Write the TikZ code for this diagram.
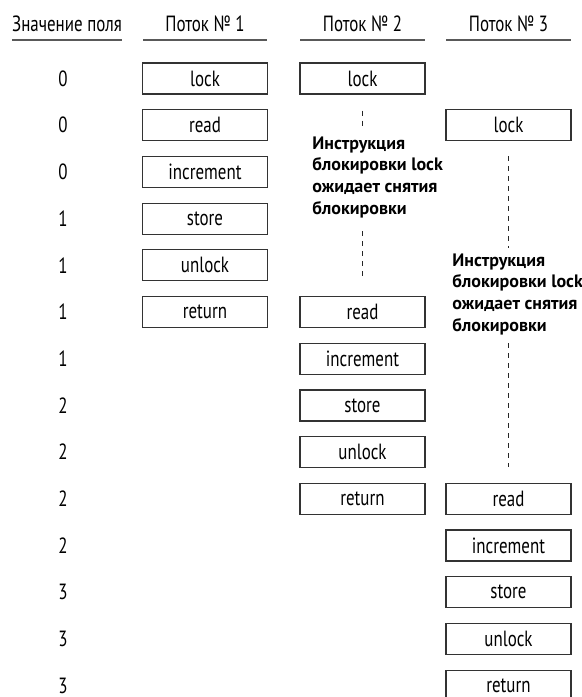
\documentclass[tikz,border=0pt]{standalone}
\usepackage{fontspec}
\setmainfont{PT Sans}[FakeStretch=0.77]
\newfontfamily\notefont{PT Sans}
\usetikzlibrary{positioning}

\begin{document}
\begin{tikzpicture}[x=0.5pt, y=-0.5pt, every node/.style={font=\fontsize{11}{13}\selectfont},
	opbox/.style={draw=black!80, line width=0.6pt, minimum width=62.5pt, minimum height=15.5pt, inner sep=0pt},
	headtext/.style={anchor=base, inner sep=0pt},
	headrule/.style={draw=black!65, line width=1pt},
	waitline/.style={draw=black!85, line width=0.6pt, dash pattern=on 2.5pt off 2.5pt},
	note/.style={font=\notefont\fontsize{9}{10.85}\selectfont\bfseries, align=left, anchor=north west, inner sep=0pt}]
	\useasboundingbox (0,0) rectangle (582,697);
	\node[headtext] (h0) at (67,31.7) {Значение поля};
	\foreach \c/\x in {1/205,2/362.5,3/508.5}
		\node[headtext] (h\c) at (\x,31.7) {Поток №~\c};
	\foreach \a/\b in {12/122,143/267,300/425,446/571}
		\draw[headrule] (\a,40) -- (\b,40);
	\foreach \v [count=\i from 0] in {0,0,0,1,1,1,1,2,2,2,2,3,3,3}
		\node (v\i) at (63,{78.5+46.7*\i}) {\v};
	\foreach \t [count=\i from 0] in {lock,read,increment,store,unlock,return}
		\node[opbox] (a\i) at (205,{78.5+46.7*\i}) {\t};
	\node[opbox] (b0) at (362.5,78.5) {lock};
	\foreach \t [count=\i from 5] in {read,increment,store,unlock,return}
		\node[opbox] (b\i) at (362.5,{78.5+46.7*\i}) {\t};
	\node[opbox] (c1) at (508.5,{78.5+46.7}) {lock};
	\foreach \t [count=\i from 9] in {read,increment,store,unlock,return}
		\node[opbox] (c\i) at (508.5,{78.5+46.7*\i}) {\t};
	\node[note] (n2) at (312,136) {Инструкция\\блокировки lock\\ожидает снятия\\блокировки};
	\node[note] (n3) at (452,253) {Инструкция\\блокировки lock\\ожидает снятия\\блокировки};
	\draw[waitline, shorten <=8pt, shorten >=4.5pt] (b0.south) -- (b0.south |- n2.north);
	\draw[waitline, shorten <=6.5pt, shorten >=9.5pt] (n2.south -| b5.north) -- (b5.north);
	\draw[waitline, shorten <=7.5pt, shorten >=2.5pt] (c1.south) -- (c1.south |- n3.north);
	\draw[waitline, shorten <=4pt, shorten >=8pt] (n3.south -| c9.north) -- (c9.north);
\end{tikzpicture}
\end{document}
